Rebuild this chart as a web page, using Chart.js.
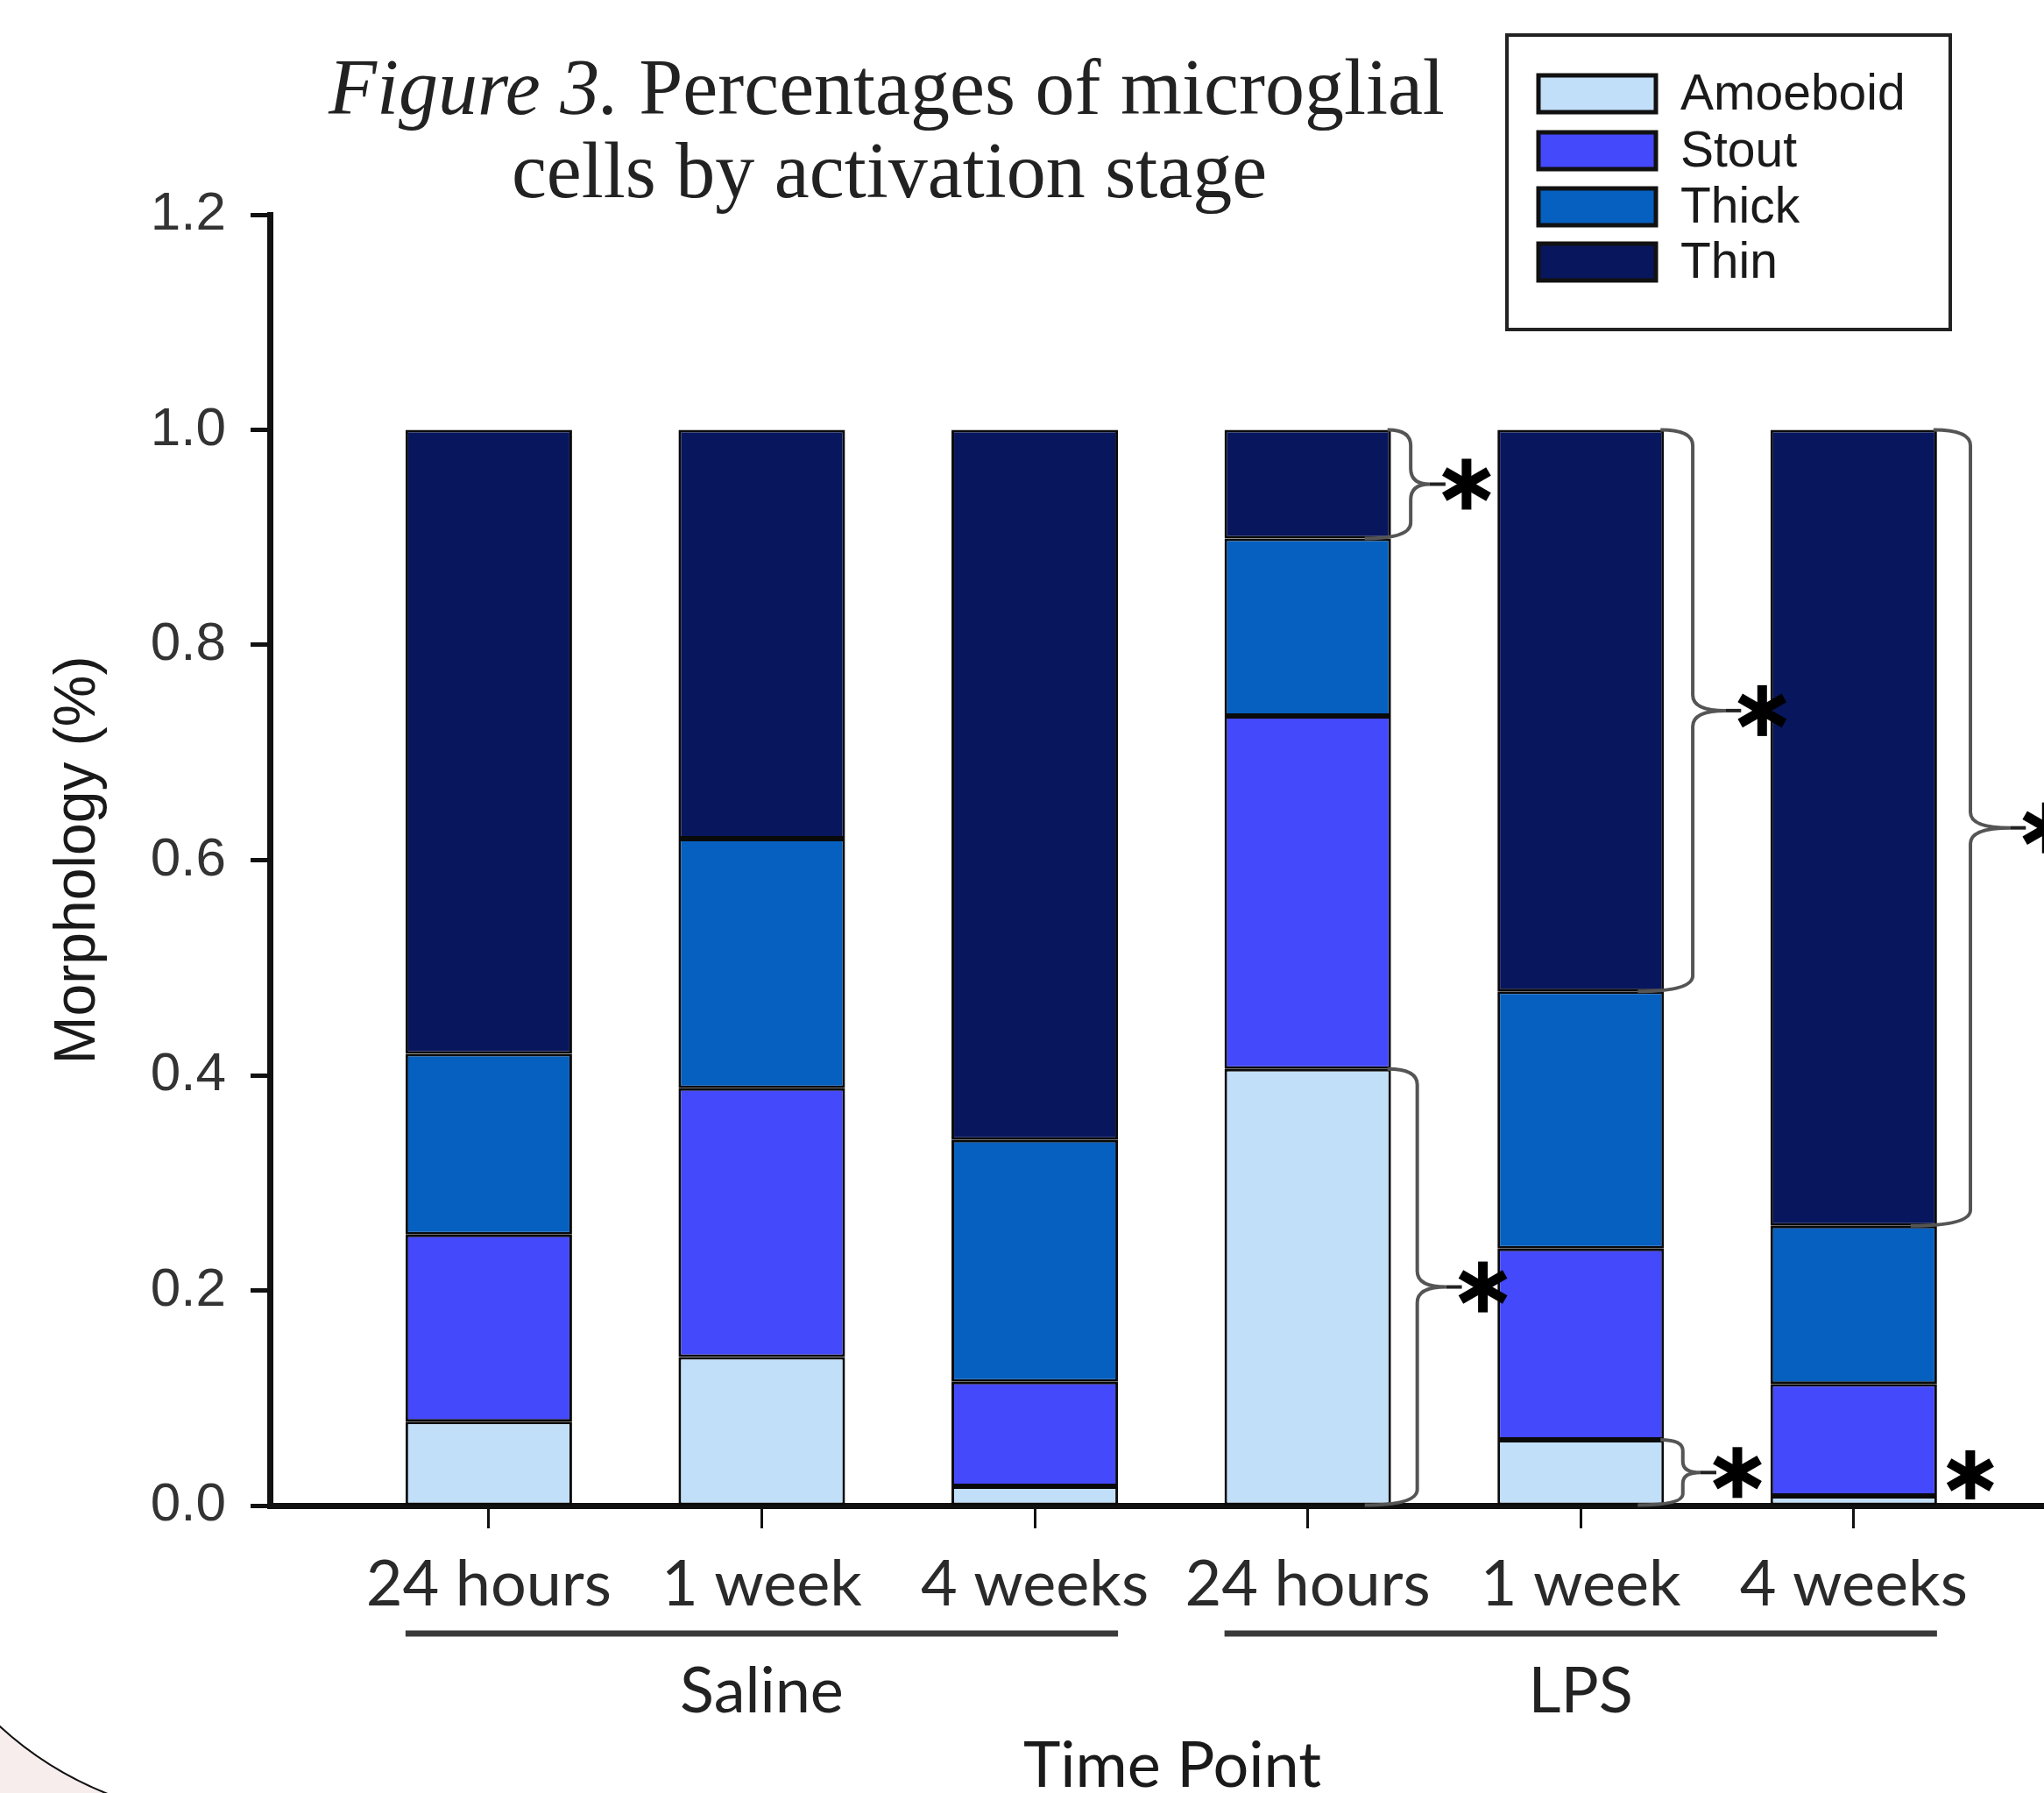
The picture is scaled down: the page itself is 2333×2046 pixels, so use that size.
<!DOCTYPE html>
<html><head><meta charset="utf-8">
<script src="https://cdn.jsdelivr.net/npm/chart.js@4.4.1/dist/chart.umd.min.js"></script>
<style>html,body{margin:0;padding:0;background:#fff}#wrap{width:2333px;height:2046px;position:relative}</style>
</head><body><div id="wrap"><canvas id="c"></canvas></div>
<script>
const categories = ['24 hours','1 week','4 weeks','24 hours','1 week','4 weeks'];
const groups = ['Saline','LPS'];
const groupMembers = [[0,1,2],[3,4,5]];
const seriesNames = ['Amoeboid','Stout','Thick','Thin'];
const amoeboid = [0.078,0.138,0.018,0.406,0.061,0.009];
const stout    = [0.174,0.250,0.097,0.328,0.178,0.104];
const thick    = [0.168,0.232,0.225,0.165,0.239,0.147];
const thin     = [0.580,0.380,0.660,0.101,0.522,0.740];
const yTicks = [0,0.2,0.4,0.6,0.8,1.0,1.2];
// significance marks: [category index, series name, draw brace]
const sigMarks = [[3,'Thin',true],[3,'Amoeboid',true],[4,'Thin',true],[4,'Amoeboid',true],[5,'Thin',true],[5,'Amoeboid',false]];
const titleItalic = 'Figure 3.';
const titleLine1 = ' Percentages of microglial';
const titleLine2 = 'cells by activation stage';
const xTitle = 'Time Point';
const yTitle = 'Morphology (%)';
const colors = ['#C1DFF9','#4449FB','#0660C0','#08165E'];

const seriesValues = [amoeboid, stout, thick, thin];
const datasets = seriesNames.map((n, k) => ({
  label: n,
  data: seriesValues[k].map((v, i) => ({x: i, y: v})),
  backgroundColor: colors[k],
  borderColor: '#0a0a0a',
  borderWidth: 3,
  borderSkipped: false,
  barPercentage: 0.61,
  categoryPercentage: 1
}));

function drawStar(ctx, cx, cy, r) {
  ctx.save();
  ctx.strokeStyle = '#000';
  ctx.lineWidth = 11;
  ctx.lineCap = 'butt';
  for (const a of [90, 30, 150]) {
    const rad = a * Math.PI / 180;
    ctx.beginPath();
    ctx.moveTo(cx - r * Math.cos(rad), cy - r * Math.sin(rad));
    ctx.lineTo(cx + r * Math.cos(rad), cy + r * Math.sin(rad));
    ctx.stroke();
  }
  ctx.restore();
}

const decor = {
  id: 'decor',
  beforeDraw(chart) {
    const ctx = chart.ctx;
    ctx.save();
    ctx.fillStyle = '#fff';
    ctx.fillRect(0, 0, chart.width, chart.height);
    // decorative slide corner
    ctx.beginPath();
    ctx.rect(0, 1880, 320, 166);
    ctx.clip();
    ctx.fillStyle = '#F8EDED';
    ctx.fillRect(0, 1880, 320, 166);
    ctx.beginPath();
    ctx.arc(270, 1675, 400, 0, Math.PI * 2);
    ctx.fillStyle = '#fff';
    ctx.fill();
    ctx.strokeStyle = '#111';
    ctx.lineWidth = 2;
    ctx.stroke();
    ctx.restore();
  },
  afterDraw(chart) {
    const ctx = chart.ctx;
    const xs = chart.scales.x;
    ctx.save();
    // title
    ctx.fillStyle = '#222';
    ctx.textBaseline = 'alphabetic';
    ctx.font = 'italic 90px "Liberation Serif"';
    const w1 = ctx.measureText(titleItalic).width;
    ctx.font = '90px "Liberation Serif"';
    const w2 = ctx.measureText(titleLine1).width;
    let sx = 1012 - (w1 + w2) / 2;
    ctx.font = 'italic 90px "Liberation Serif"';
    ctx.textAlign = 'left';
    ctx.fillText(titleItalic, sx, 130);
    ctx.font = '90px "Liberation Serif"';
    ctx.fillText(titleLine1, sx + w1, 130);
    ctx.textAlign = 'center';
    ctx.fillText(titleLine2, 1015, 225);

    // legend
    ctx.strokeStyle = '#222';
    ctx.lineWidth = 4;
    ctx.strokeRect(1720, 40, 506, 336);
    const rowY = [107, 172, 236, 299];
    ctx.font = '57px "Liberation Sans"';
    ctx.textAlign = 'left';
    ctx.textBaseline = 'middle';
    chart.data.datasets.forEach((d, k) => {
      ctx.fillStyle = d.backgroundColor;
      ctx.fillRect(1756, rowY[k] - 21, 134, 42);
      ctx.lineWidth = 5;
      ctx.strokeStyle = '#111';
      ctx.strokeRect(1756, rowY[k] - 21, 134, 42);
      ctx.fillStyle = '#1a1a1a';
      ctx.fillText(d.label, 1918, rowY[k] + 2);
    });

    // group labels + underlines
    const bw = chart.getDatasetMeta(0).data[0].width;
    ctx.font = '72px Lato';
    ctx.textAlign = 'center';
    groupMembers.forEach((m, g) => {
      const xl = xs.getPixelForValue(m[0]) - bw / 2;
      const xr = xs.getPixelForValue(m[m.length - 1]) + bw / 2;
      ctx.strokeStyle = '#3a3a3a';
      ctx.lineWidth = 7;
      ctx.beginPath();
      ctx.moveTo(xl, 1864);
      ctx.lineTo(xr, 1864);
      ctx.stroke();
      ctx.fillStyle = '#222';
      ctx.fillText(groups[g], (xs.getPixelForValue(m[0]) + xs.getPixelForValue(m[m.length - 1])) / 2, 1931);
    });
    // x axis title
    ctx.fillStyle = '#1a1a1a';
    ctx.fillText(xTitle, 1338, 2016);

    // significance braces
    sigMarks.forEach(([ci, name, brace]) => {
      const k = seriesNames.indexOf(name);
      const el = chart.getDatasetMeta(k).data[ci];
      const x0 = el.x + el.width / 2;
      const yTop = Math.min(el.y, el.base), yBot = Math.max(el.y, el.base);
      const h = yBot - yTop;
      const yMid = (yTop + yBot) / 2;
      if (!brace) {
        drawStar(ctx, x0 + 38, yTop - 24, 28);
        return;
      }
      const d = 20 + 0.02 * h;
      const tip = 18 + 0.03 * h;
      const x1 = x0 + d, xt = x1 + tip;
      const r = Math.min(18, h / 6);
      ctx.strokeStyle = '#555';
      ctx.lineWidth = 4;
      ctx.beginPath();
      ctx.moveTo(x0 - 4, yTop);
      ctx.quadraticCurveTo(x1, yTop, x1, yTop + r);
      ctx.lineTo(x1, yMid - r);
      ctx.quadraticCurveTo(x1, yMid, xt, yMid);
      ctx.quadraticCurveTo(x1, yMid, x1, yMid + r);
      ctx.lineTo(x1, yBot - r);
      ctx.quadraticCurveTo(x1, yBot, x0 - 30, yBot);
      ctx.stroke();
      ctx.strokeStyle = '#222';
      ctx.beginPath();
      ctx.moveTo(xt, yMid);
      ctx.lineTo(xt + 18, yMid);
      ctx.stroke();
      drawStar(ctx, xt + 42, yMid, 29);
    });
    ctx.restore();
  }
};

new Chart(document.getElementById('c'), {
  type: 'bar',
  data: { datasets },
  options: {
    responsive: true,
    maintainAspectRatio: false,
    animation: false,
    layout: { padding: { top: 245, left: 0, right: 0, bottom: 0 } },
    plugins: { legend: { display: false }, tooltip: { enabled: false }, title: { display: false } },
    scales: {
      x: {
        type: 'linear', stacked: true, min: -0.802, max: 5.697, offset: false,
        afterBuildTicks: s => { s.ticks = categories.map((_, i) => ({ value: i })); },
        afterFit: s => { s.height = 328; },
        border: { display: true, color: '#111', width: 7 },
        grid: { display: true, offset: false, drawOnChartArea: false, drawTicks: true, tickLength: 26, tickWidth: 3, tickColor: '#111' },
        ticks: { autoSkip: false, maxRotation: 0, minRotation: 0, font: { family: 'Lato', size: 72 }, color: '#2a2a2a', padding: 22,
          callback: v => categories[v] },
        title: { display: false }
      },
      y: {
        type: 'linear', stacked: true, min: 0, max: 1.2,
        afterBuildTicks: s => { s.ticks = yTicks.map(v => ({ value: v })); },
        afterFit: s => { s.width = 308; },
        border: { display: true, color: '#111', width: 7 },
        grid: { display: true, drawOnChartArea: false, drawTicks: true, tickLength: 22, tickWidth: 5, tickColor: '#111' },
        ticks: { font: { family: 'Liberation Sans', size: 62 }, color: '#333', padding: 28, callback: v => Number(v).toFixed(1) },
        title: { display: true, text: yTitle, font: { family: 'Liberation Sans', size: 66 }, color: '#1a1a1a', padding: { top: 50, bottom: 0 } }
      }
    }
  },
  plugins: [decor]
});
</script></body></html>
